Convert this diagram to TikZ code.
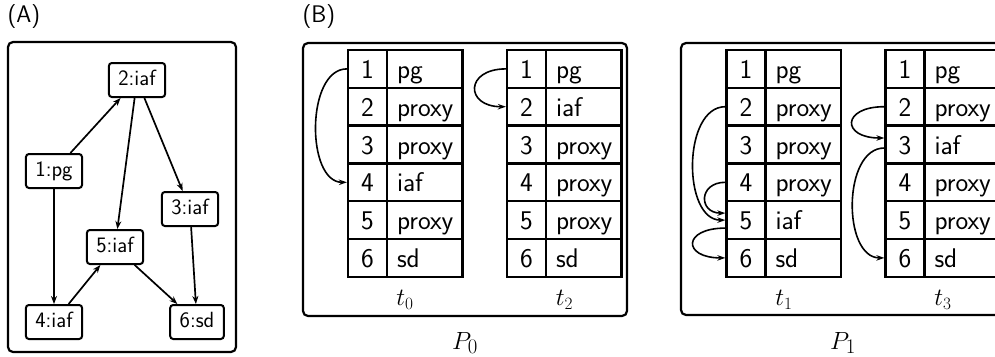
\documentclass[tikz,border=0pt]{standalone}
\usetikzlibrary{arrows.meta}
\begin{document}
\begin{tikzpicture}[x=1pt,y=-1pt,
  gnode/.style={draw, rounded corners=3pt, line width=2pt, font=\fontsize{22}{24}\selectfont\sffamily, minimum height=34pt, inner xsep=9.5pt, inner ysep=0pt, text height=15.5pt, text depth=4.5pt},
  gedge/.style={-{Stealth[length=8pt,width=6pt]}, line width=1.7pt},
  numcell/.style={draw, line width=2.3pt, minimum width=39pt, minimum height=37.8pt, inner sep=0pt, font=\fontsize{27}{30}\selectfont\sffamily, text height=19pt, text depth=0pt},
  valcell/.style={draw, line width=2.3pt, minimum width=75.5pt, minimum height=37.8pt, inner ysep=0pt, inner xsep=10pt, text width=55.5pt, align=left, font=\fontsize{27}{30}\selectfont\sffamily, text height=19pt, text depth=0pt},
  barrow/.style={-{Stealth[length=8pt,width=5.5pt]}, line width=1.6pt},
  panel/.style={draw, line width=2.2pt, rounded corners=5pt},
  plabel/.style={font=\fontsize{24}{26}\selectfont\sffamily, anchor=west},
  tlabel/.style={font=\fontsize{26}{28}\selectfont},
  Plabel/.style={font=\fontsize{28}{30}\selectfont}
]
\useasboundingbox (0,0) rectangle (995,356);
\clip (0,0) rectangle (995,356);

% ---------- Panel A ----------
\node[plabel] (labA) at (4,17) {(A)};
\draw[panel] (8,42) rectangle (236,352);
\node[gnode] (g2) at (137,80) {2:iaf};
\node[gnode] (g1) at (54,171) {1:pg};
\node[gnode] (g3) at (190,209) {3:iaf};
\node[gnode] (g5) at (115,247) {5:iaf};
\node[gnode] (g4) at (54,322) {4:iaf};
\node[gnode] (g6) at (197,322) {6:sd};
\draw[gedge] (g1) -- (g2);
\draw[gedge] (g2) -- (g5);
\draw[gedge] (g2) -- (g3);
\draw[gedge] (g1) -- (g4);
\draw[gedge] (g4) -- (g5);
\draw[gedge] (g5) -- (g6);
\draw[gedge] (g3) -- (g6);

% ---------- Panel B ----------
\node[plabel] (labB) at (299,17) {(B)};
\draw[panel] (303,43) rectangle (627,316);
\draw[panel] (681,43) rectangle (1005,315);

\foreach \v [count=\i] in {pg,proxy,proxy,iaf,proxy,sd} {
  \node[numcell] (t0n\i) at (367.5,{50+(\i-0.5)*37.8}) {\i};
  \node[valcell] (t0v\i) at (424.75,{50+(\i-0.5)*37.8}) {\v};
}
\foreach \v [count=\i] in {pg,iaf,proxy,proxy,proxy,sd} {
  \node[numcell] (t2n\i) at (526.5,{50+(\i-0.5)*37.8}) {\i};
  \node[valcell] (t2v\i) at (583.75,{50+(\i-0.5)*37.8}) {\v};
}
\foreach \v [count=\i] in {pg,proxy,proxy,proxy,iaf,sd} {
  \node[numcell] (t1n\i) at (746,{50+(\i-0.5)*37.8}) {\i};
  \node[valcell] (t1v\i) at (803.25,{50+(\i-0.5)*37.8}) {\v};
}
\foreach \v [count=\i] in {pg,proxy,iaf,proxy,proxy,sd} {
  \node[numcell] (t3n\i) at (905,{50+(\i-0.5)*37.8}) {\i};
  \node[valcell] (t3v\i) at (962.25,{50+(\i-0.5)*37.8}) {\v};
}

\node[tlabel] (lt0) at (405,300) {$t_0$};
\node[tlabel] (lt2) at (564.5,300) {$t_2$};
\node[tlabel] (lt1) at (784,300) {$t_1$};
\node[tlabel] (lt3) at (943,300) {$t_3$};
\node[Plabel] (lP0) at (465,343) {$P_0$};
\node[Plabel] (lP1) at (843,343) {$P_1$};

% arrows
\draw[barrow] (t0n1.west) .. controls +(-41,0) and +(-41,0) .. (t0n4.west);
\draw[barrow] (t2n1.west) .. controls +(-41,0) and +(-41,0) .. (t2n2.west);
\draw[barrow] (t1n2.west) .. controls +(-43,0) and +(-43,0) .. (t1n5.west);
\draw[barrow] (t1n4.west) .. controls +(-27,0) and +(-27,0) .. ([yshift=7pt]t1n5.west);
\draw[barrow] ([yshift=-8pt]t1n5.west) .. controls +(-43,0) and +(-43,0) .. (t1n6.west);
\draw[barrow] (t3n2.west) .. controls +(-43,0) and +(-43,0) .. ([yshift=6.5pt]t3n3.west);
\draw[barrow] ([yshift=-3.5pt]t3n3.west) .. controls +(-42,0) and +(-42,0) .. (t3n6.west);
\end{tikzpicture}
\end{document}
